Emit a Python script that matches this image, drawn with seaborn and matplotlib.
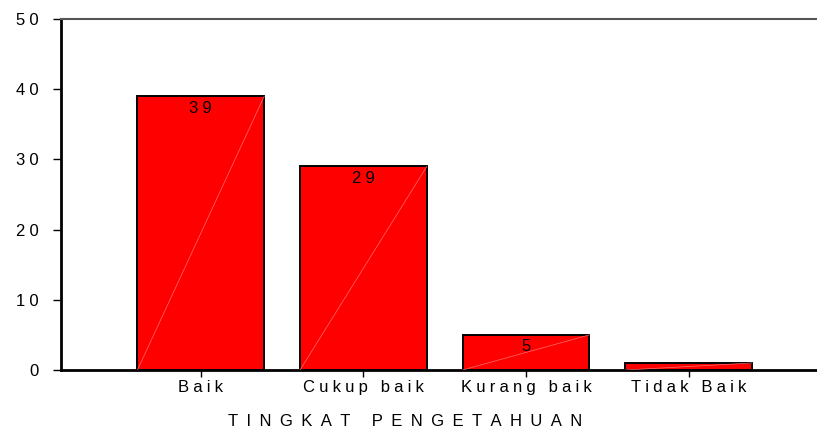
import matplotlib
matplotlib.use("Agg")
import matplotlib.pyplot as plt
import seaborn as sns
import pandas as pd

categories = ["Baik", "Cukup baik", "Kurang baik", "Tidak Baik"]
counts = [39, 29, 5, 1]
shown_labels = ["39", "29", "5", ""]
y_ticks = [0, 10, 20, 30, 40, 50]
x_title = "TINGKAT PENGETAHUAN"


def spaced(s, sep="\u2005"):
    """Wide letter spacing for the broad SPSS-style lettering."""
    return sep.join(s)


sns.set_theme(style="white")
plt.rcParams["font.family"] = ["Liberation Sans", "DejaVu Sans"]
plt.rcParams["text.color"] = "black"
plt.rcParams["xtick.color"] = "black"
plt.rcParams["ytick.color"] = "black"

df = pd.DataFrame({"kategori": categories, "jumlah": counts})

fig = plt.figure(figsize=(8.17, 4.28), dpi=100)
ax = fig.add_axes([0.0747, 0.1355, 0.9253, 0.8201])

sns.barplot(data=df, x="kategori", y="jumlah", color="#ff0000", saturation=1,
            width=0.78, edgecolor="black", linewidth=1.4, ax=ax)

# thin diagonal stroke across each bar, plus the count near its top
for patch, lab in zip(ax.patches, shown_labels):
    x0 = patch.get_x()
    w = patch.get_width()
    h = patch.get_height()
    ax.plot([x0, x0 + w], [0, h], color="#ff7070", lw=0.5, zorder=3)
    if lab:
        ax.text(x0 + w / 2, h - 1.7, spaced(lab), ha="center", va="center",
                fontsize=12, color="black", zorder=4)

ax.set_ylim(0, 50)
ax.set_xlim(-0.86, 3.79)
ax.set_yticks(y_ticks)
ax.set_yticklabels([spaced(str(t)) for t in y_ticks], fontsize=12)
ax.set_xticks(range(len(categories)))
ax.set_xticklabels([spaced(c) for c in categories], fontsize=12)
ax.tick_params(axis="x", length=5, width=1, direction="out", pad=2)
ax.tick_params(axis="y", length=6, width=1, direction="out", pad=10)
ax.tick_params(bottom=True, left=True)

ax.set_ylabel("")
ax.set_xlabel("")
fig.text(0.4963, 1 - 426 / 428, spaced(x_title, "\u2002"), ha="center",
         va="baseline", fontsize=12, color="black")

for s in ["left", "bottom"]:
    ax.spines[s].set_color("black")
    ax.spines[s].set_linewidth(2)
ax.spines["top"].set_color("#555555")
ax.spines["top"].set_linewidth(1.5)
ax.spines["right"].set_visible(False)

fig.savefig("out.png", dpi=100)
